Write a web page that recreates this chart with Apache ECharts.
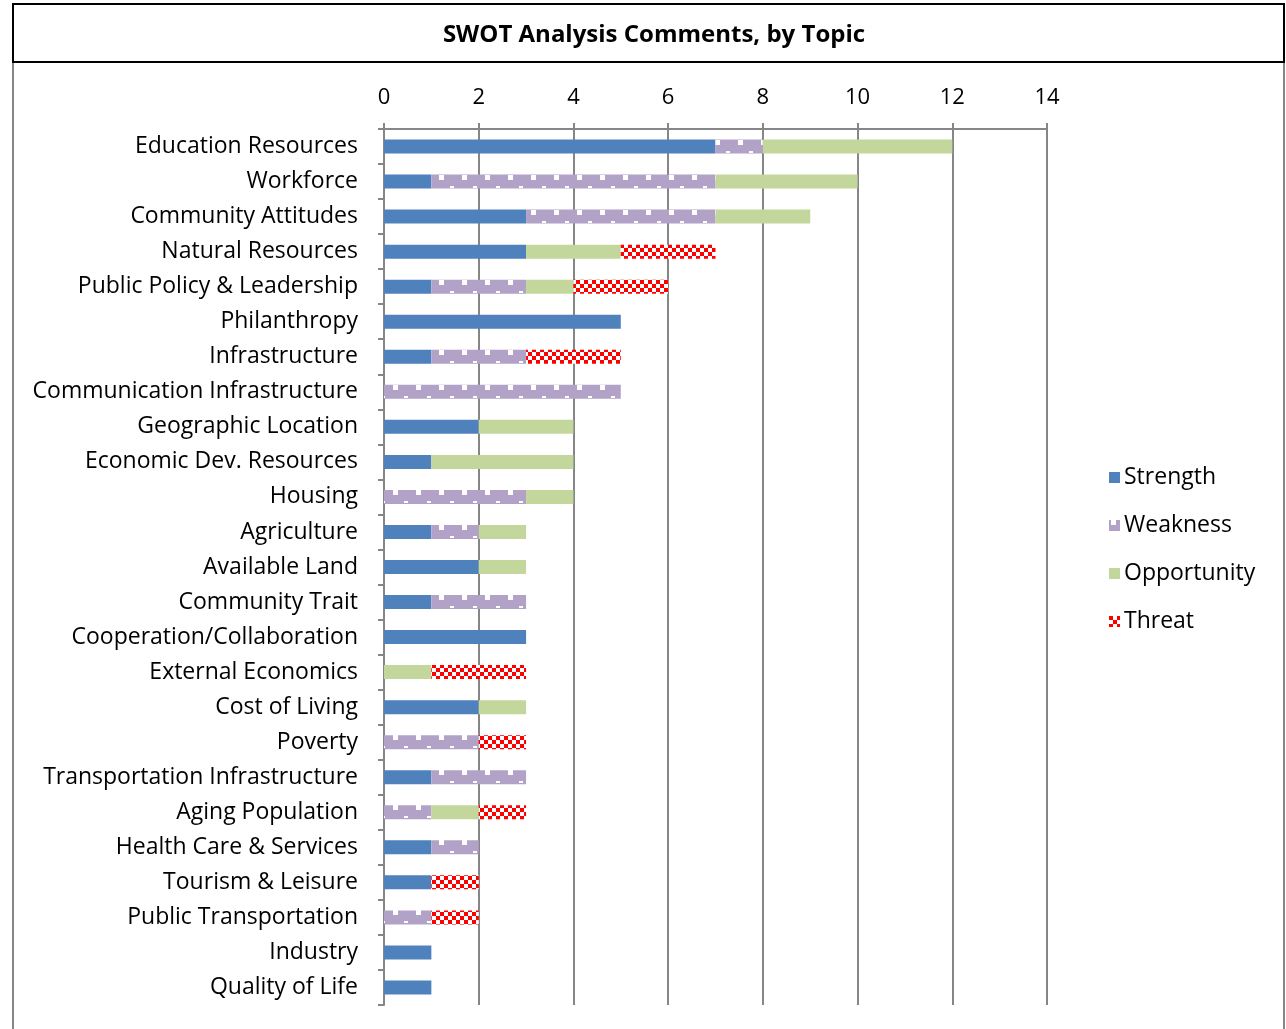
<!DOCTYPE html>
<html>
<head>
<meta charset="utf-8">
<script src="https://cdn.jsdelivr.net/npm/echarts@6/dist/echarts.min.js"></script>
<style>
  html, body { margin: 0; padding: 0; background: #fff; }
  #grafico { width: 1286px; height: 1029px; }
</style>
</head>
<body>
<div id="grafico"></div>
<script>
// datos
var topics = ['Education Resources', 'Workforce', 'Community Attitudes', 'Natural Resources',
  'Public Policy & Leadership', 'Philanthropy', 'Infrastructure', 'Communication Infrastructure',
  'Geographic Location', 'Economic Dev. Resources', 'Housing', 'Agriculture', 'Available Land',
  'Community Trait', 'Cooperation/Collaboration', 'External Economics', 'Cost of Living', 'Poverty',
  'Transportation Infrastructure', 'Aging Population', 'Health Care & Services', 'Tourism & Leisure',
  'Public Transportation', 'Industry', 'Quality of Life'];
var strength =    [7, 1, 3, 3, 1, 5, 1, 0, 2, 1, 0, 1, 2, 1, 3, 0, 2, 0, 1, 0, 1, 1, 0, 1, 1];
var weakness =    [1, 6, 4, 0, 2, 0, 2, 5, 0, 0, 3, 1, 0, 2, 0, 0, 0, 2, 2, 1, 1, 0, 1, 0, 0];
var opportunity = [4, 3, 2, 2, 1, 0, 0, 0, 2, 3, 1, 1, 1, 0, 0, 1, 1, 0, 0, 1, 0, 0, 0, 0, 0];
var threat =      [0, 0, 0, 2, 2, 0, 2, 0, 0, 0, 0, 0, 0, 0, 0, 2, 0, 1, 0, 1, 0, 1, 1, 0, 0];
var xTicks = [0, 2, 4, 6, 8, 10, 12, 14];

// patrones (tramas) como en Excel
function tramaDebilidad() {
  // alto 35 = alto de cada fila, asi los cuadritos caen arriba de cada barra
  var c = document.createElement('canvas');
  c.width = 23; c.height = 35;
  var ctx = c.getContext('2d');
  ctx.fillStyle = '#b3a2c7';
  ctx.fillRect(0, 0, 23, 35);
  ctx.fillStyle = '#ffffff';
  ctx.fillRect(2, 0, 5, 5);
  ctx.fillRect(13, 11, 4, 2);
  return c;
}
function tramaAmenaza() {
  var c = document.createElement('canvas');
  c.width = 8; c.height = 8;
  var ctx = c.getContext('2d');
  ctx.fillStyle = '#ffffff';
  ctx.fillRect(0, 0, 8, 8);
  ctx.fillStyle = '#ff0000';
  ctx.fillRect(0, 0, 4, 4);
  ctx.fillRect(4, 4, 4, 4);
  return c;
}

var fuente = 'Open Sans';

document.addEventListener('DOMContentLoaded', function () {
  var chart = echarts.init(document.getElementById('grafico'));

  function serie(nombre, datos, color) {
    return {
      name: nombre,
      type: 'bar',
      stack: 'total',
      barWidth: 14,
      data: datos,
      itemStyle: { color: color },
      emphasis: { disabled: true }
    };
  }

  chart.setOption({
    animation: false,
    backgroundColor: '#fff',
    title: {
      text: 'SWOT Analysis Comments, by Topic',
      left: 649,
      textAlign: 'center',
      top: 18,
      textStyle: { fontFamily: fuente, fontWeight: 'bold', fontSize: 24, color: '#000' }
    },
    graphic: [
      { type: 'rect', shape: { x: 13, y: 4, width: 1271, height: 58 },
        style: { fill: 'none', stroke: '#000', lineWidth: 2 }, z: 100 },
      { type: 'line', shape: { x1: 13, y1: 63, x2: 13, y2: 1029 },
        style: { stroke: '#868686', lineWidth: 2 } },
      { type: 'line', shape: { x1: 1284, y1: 63, x2: 1284, y2: 1029 },
        style: { stroke: '#868686', lineWidth: 2 } }
    ],
    legend: {
      orient: 'vertical',
      left: 1104,
      top: 461,
      itemWidth: 11,
      itemHeight: 11,
      itemGap: 25,
      icon: 'rect',
      textStyle: { fontFamily: fuente, fontSize: 23, color: '#000', padding: [0, 0, 0, -1] },
      data: ['Strength', 'Weakness', 'Opportunity', 'Threat']
    },
    grid: { left: 384, right: 239, top: 129, bottom: 24 },
    xAxis: {
      type: 'value',
      position: 'top',
      min: 0,
      max: 14,
      interval: 2,
      axisLine: { show: true, lineStyle: { color: '#868686', width: 2 } },
      axisTick: { show: true, length: 6, lineStyle: { color: '#868686', width: 2 } },
      axisLabel: {
        margin: 20,
        fontFamily: fuente, fontSize: 22, color: '#000',
        formatter: function (v) { return xTicks.indexOf(v) >= 0 ? String(v) : ''; }
      },
      splitLine: { show: true, lineStyle: { color: '#868686', width: 2 } }
    },
    yAxis: {
      type: 'category',
      inverse: true,
      data: topics,
      axisLine: { show: true, lineStyle: { color: '#868686', width: 2 } },
      axisTick: { show: true, length: 6, alignWithLabel: false, lineStyle: { color: '#868686', width: 2 } },
      axisLabel: { margin: 26, fontFamily: fuente, fontSize: 23, color: '#000' }
    },
    series: [
      serie('Strength', strength, '#4f81bd'),
      serie('Weakness', weakness, { image: tramaDebilidad(), repeat: 'repeat' }),
      serie('Opportunity', opportunity, '#c3d69b'),
      serie('Threat', threat, { image: tramaAmenaza(), repeat: 'repeat' })
    ]
  });
});
</script>
</body>
</html>
